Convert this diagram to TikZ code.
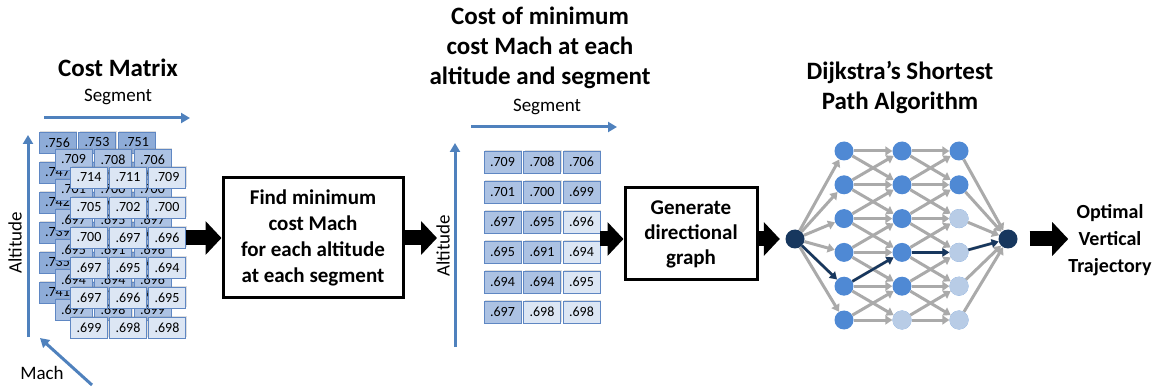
\documentclass[tikz,border=0pt]{standalone}
\usepackage{fontspec}
\setmainfont{Carlito}
\usetikzlibrary{arrows.meta,shadows}

\definecolor{axisblue}{RGB}{79,129,189}
\definecolor{cellA}{RGB}{142,172,216}
\definecolor{cellB}{RGB}{172,194,227}
\definecolor{cellC}{RGB}{220,230,244}
\definecolor{cellline}{RGB}{95,135,195}
\definecolor{nodemid}{RGB}{79,137,212}
\definecolor{nodelight}{RGB}{184,204,230}
\definecolor{nodedark}{RGB}{23,55,94}
\definecolor{edgegray}{RGB}{170,170,170}

\tikzset{
  cell/.style={draw=cellline, line width=0.8pt, minimum width=37pt, minimum height=21pt, inner sep=0pt,
    font=\fontsize{14}{14}\selectfont, drop shadow={shadow xshift=1pt, shadow yshift=1pt, opacity=0.25}},
  axis/.style={draw=axisblue, line width=3pt, -{Triangle[length=9pt,width=10pt]}},
  blockarrow/.style={line width=15pt, -{Triangle[length=16pt,width=33pt]}},
  stepbox/.style={draw, line width=3pt, align=center, inner sep=0pt},
  title/.style={align=center, font=\bfseries\fontsize{25}{30}\selectfont},
  axislabel/.style={font=\fontsize{19}{19}\selectfont},
  gnode/.style={circle, minimum size=19pt, inner sep=0pt, fill=nodemid},
  gedge/.style={draw=edgegray, line width=3pt, -{Triangle[length=7pt,width=9pt]}},
  pathedge/.style={draw=nodedark, line width=2.5pt, -{Triangle[length=7pt,width=8pt]}}
}

\begin{document}
\begin{tikzpicture}[x=1pt,y=1pt,yscale=-1,xscale=1]
\useasboundingbox (0,0) rectangle (1160,390);

%Cost matrix, back layer
\foreach \row [count=\r] in {{.756,.753,.751},{.747,.745,.744},{.742,.740,.739},{.739,.737,.736},{.735,.734,.733},{.741,.739,.738}}
  \foreach \v [count=\c] in \row
    \node [cell, fill=cellA] (a1-\r-\c) at ({57.5+(\c-1)*39.5},{142.5+(\r-1)*30}) {\v};
%Cost matrix, middle layer
\foreach \row [count=\r] in {{.709,.708,.706},{.701,.700,.700},{.697,.695,.697},{.695,.691,.696},{.694,.694,.696},{.697,.698,.699}}
  \foreach \v [count=\c] in \row
    \node [cell, fill=cellB] (a2-\r-\c) at ({73.5+(\c-1)*39.5},{159.5+(\r-1)*30}) {\v};
%Cost matrix, front layer
\foreach \row [count=\r] in {{.714,.711,.709},{.705,.702,.700},{.700,.697,.696},{.697,.695,.694},{.697,.696,.695},{.699,.698,.698}}
  \foreach \v [count=\c] in \row
    \node [cell, fill=cellC] (a3-\r-\c) at ({89+(\c-1)*39},{177.5+(\r-1)*30}) {\v};

%Axes of the cost matrix
\coordinate (seg1s) at (44,118);
\coordinate (seg1e) at (190,118);
\coordinate (alt1s) at (28,337);
\coordinate (alt1e) at (28,135);
\coordinate (machs) at (92,385);
\coordinate (mache) at (40,338);
\draw [axis] (seg1s) -- (seg1e);
\draw [axis] (alt1s) -- (alt1e);
\draw [axis] (machs) -- (mache);

% Text Node
\node [title] (costmatrix) at (118,68) {Cost Matrix};
% Text Node
\node [axislabel] (seg1) at (118,97) {Segment};
% Text Node
\node [axislabel, rotate=90] (alt1) at (15,243) {Altitude};
% Text Node
\node [axislabel] (mach) at (42,373) {Mach};

%Shape: Rectangle
\node [stepbox, minimum width=180pt, minimum height=120pt, font=\bfseries\fontsize{21}{26}\selectfont] (find) at (313,238)
  {Find minimum\\cost Mach\\for each altitude\\at each segment};

%Minimum cost table
\foreach \row [count=\r] in {{.709/cellB,.708/cellB,.706/cellB},{.701/cellB,.700/cellB,.699/cellB},{.697/cellB,.695/cellB,.696/cellC},
    {.695/cellB,.691/cellB,.694/cellC},{.694/cellB,.694/cellB,.695/cellC},{.697/cellB,.698/cellC,.698/cellC}}
  \foreach \v/\f [count=\c] in \row
    \node [cell, minimum height=22pt, fill=\f] (t-\r-\c) at ({502.5+(\c-1)*39.5},{162+(\r-1)*30}) {\v};

%Axes of the table
\coordinate (seg2s) at (471,127);
\coordinate (seg2e) at (617,127);
\coordinate (alt2s) at (455,347);
\coordinate (alt2e) at (455,143);
\draw [axis] (seg2s) -- (seg2e);
\draw [axis] (alt2s) -- (alt2e);

% Text Node
\node [title] (mintitle) at (540,48) {Cost of minimum\\cost Mach at each\\altitude and segment};
% Text Node
\node [axislabel] (seg2) at (547,107) {Segment};
% Text Node
\node [axislabel, rotate=90] (alt2) at (443,246) {Altitude};

%Shape: Rectangle
\node [stepbox, minimum width=132pt, minimum height=92pt, font=\bfseries\fontsize{21}{25}\selectfont] (gen) at (691,234)
  {Generate\\directional\\graph};

%Directional graph
\node [gnode, fill=nodedark] (src) at (795,239) {};
\node [gnode, fill=nodedark] (sink) at (1008,239) {};
\foreach \x [count=\c] in {844,902,959}
  \foreach \r in {1,...,6}
    \node [gnode] (g-\c-\r) at (\x,{151+(\r-1)*33.8}) {};
\foreach \c/\r in {2/6,3/3,3/4,3/5,3/6}
  \node [gnode, fill=nodelight] at (g-\c-\r) {};

\foreach \r in {1,...,6} {
  \draw [gedge] (src) -- (g-1-\r);
  \draw [gedge] (g-3-\r) -- (sink);
}
\foreach \c/\n in {1/2,2/3}
  \foreach \r in {1,...,6}
    \foreach \d in {-1,0,1} {
      \pgfmathtruncatemacro{\t}{\r+\d}
      \ifnum\t>0 \ifnum\t<7
        \draw [gedge] (g-\c-\r) -- (g-\n-\t);
      \fi\fi
    }
%Shortest path
\draw [pathedge] (src) -- (g-1-5);
\draw [pathedge] (g-1-5) -- (g-2-4);
\draw [pathedge] (g-2-4) -- (g-3-4);
\draw [pathedge] (g-3-4) -- (sink);

% Text Node
\node [title] (dijkstra) at (900,88) {Dijkstra’s Shortest\\Path Algorithm};
% Text Node
\node [align=center, inner sep=0pt, font=\bfseries\fontsize{20}{27}\selectfont] (opt) at (1110,240) {Optimal\\Vertical\\Trajectory};

%Block arrows
\coordinate (alt2in) at (437,238);
\draw [blockarrow] (a3-3-3.east |- find.west) -- (find.west);
\draw [blockarrow] (find.east) -- (alt2in);
\draw [blockarrow] (t-4-3.east |- src) -- (gen.west |- src);
\draw [blockarrow, shorten >=5.5pt] (gen.east |- src) -- (src);
\draw [blockarrow, shorten <=12pt] (sink.east) -- (opt.west |- sink);
\end{tikzpicture}
\end{document}
